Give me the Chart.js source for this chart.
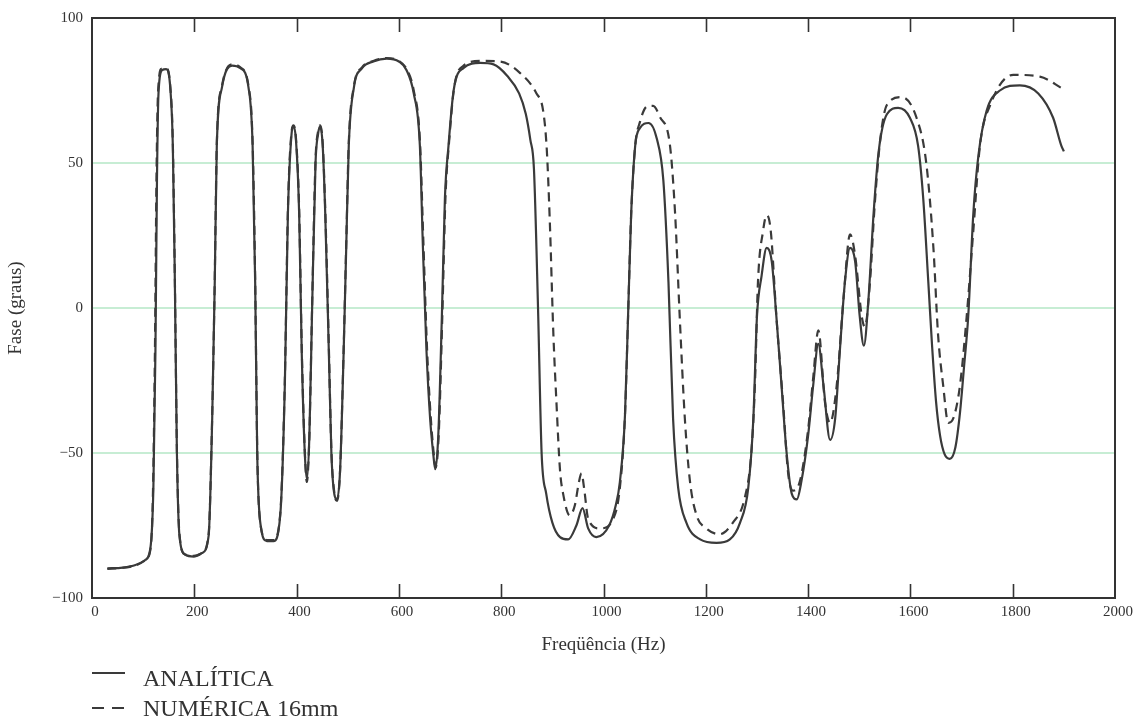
<!DOCTYPE html>
<html lang="pt">
<head>
    <meta charset="UTF-8">
    <title>Fase x Frequência</title>
    <style>
        body {
            margin: 0;
            background-color: #fff;
        }

        #wrap {
            position: relative;
            width: 1138px;
            height: 724px;
        }
    </style>
    <script src="https://cdn.jsdelivr.net/npm/chart.js"></script>
</head>
<body>
    <div id="wrap">
        <canvas id="faseChart"></canvas>
    </div>

    <script>
        // Solução analítica: frequência (Hz) e fase (graus)
        const freqAnalitica = [30, 60, 85, 104, 114, 120, 124, 127, 130, 137, 145, 153, 158, 162, 166, 171, 182, 199, 215, 228,
            235, 240, 244, 254, 274, 290, 306, 314, 319, 323, 329, 342, 355, 368, 377, 383, 390, 394, 399, 405,
            410, 416, 420, 425, 430, 437, 442, 446, 451, 456, 463, 468, 474, 479, 485, 492, 497, 502, 512, 528,
            550, 576, 600, 615, 629, 641, 647, 654, 661, 667, 671, 677, 684, 690, 697, 707, 726, 759, 785, 812,
            835, 848, 857, 864, 872, 879, 888, 900, 915, 931, 947, 959, 970, 986, 1011, 1024, 1032, 1042, 1048, 1054,
            1062, 1071, 1088, 1104, 1117, 1127, 1136, 1146, 1162, 1189, 1221, 1247, 1267, 1283, 1293, 1300, 1309, 1319, 1329, 1338,
            1348, 1358, 1368, 1378, 1387, 1400, 1410, 1420, 1430, 1443, 1453, 1462, 1472, 1482, 1492, 1501, 1509, 1518, 1528, 1538,
            1554, 1576, 1599, 1615, 1625, 1635, 1642, 1650, 1658, 1667, 1677, 1688, 1697, 1705, 1713, 1723, 1733, 1749, 1775, 1814,
            1850, 1879, 1895, 1900];
        const faseAnalitica = [-89.8, -89.5, -88.6, -86.9, -83, -62, -15, 44, 74, 82, 82.4, 76, 56, 9, -50, -78.6, -85, -85.7, -84.5, -78.6,
            -38, 9, 56, 76, 83.6, 82.7, 76, 56, 9, -50, -74, -80.4, -80.4, -71.5, -26.6, 32.5, 59.7, 62.6, 57.3, 32.5,
            -15, -50, -59, -44, -3, 50, 60, 62.6, 56, 32.5, -15, -50, -64.4, -66, -56, -15, 20.7, 56, 76, 82.7,
            85, 86, 85, 82, 74, 56, 20.7, -15, -38, -50, -55.6, -44, -3, 38, 56, 75, 82.7, 84.5, 84, 80,
            74, 67, 58, 48, 0, -50, -64, -74, -79, -79.8, -75, -69, -76, -79, -75, -68, -60, -37, -3, 32,
            56, 62, 63.8, 58.5, 44, 9, -38, -62, -74, -79.8, -81, -79.8, -74, -62, -38, -3, 11, 20.7, 16, -3,
            -26.6, -50, -64, -66, -59.7, -44, -26.6, -12.4, -26.6, -45.5, -38, -15, 9, 20.7, 16, -3, -13, 3, 32.5, 54,
            66.8, 69, 65.6, 56, 38, 9, -12, -32, -44, -50.5, -52, -48, -36, -20, -3, 32.5, 52.6, 68, 75, 76.8,
            74, 65.6, 56, 54];

        // Solução numérica com malha de 16 mm
        const freqNumerica = [30, 85, 104, 114, 119, 123, 126, 129, 136, 145, 153, 158, 162, 166, 171, 182, 199, 215, 228, 235,
            240, 244, 254, 274, 290, 306, 314, 319, 323, 329, 342, 355, 368, 377, 383, 390, 394, 399, 405, 410,
            416, 420, 425, 430, 437, 442, 446, 451, 456, 463, 468, 474, 479, 485, 492, 497, 502, 512, 528, 550,
            576, 600, 615, 629, 641, 648, 655, 662, 668, 672, 678, 685, 691, 698, 708, 726, 760, 798, 837, 869,
            882, 889, 895, 902, 908, 915, 921, 934, 944, 952, 957, 962, 970, 993, 1019, 1032, 1042, 1048, 1054, 1062,
            1071, 1085, 1097, 1110, 1130, 1140, 1149, 1159, 1169, 1182, 1201, 1227, 1253, 1276, 1289, 1296, 1302, 1312, 1319, 1327,
            1338, 1351, 1361, 1371, 1384, 1400, 1410, 1420, 1433, 1443, 1456, 1470, 1482, 1492, 1505, 1511, 1521, 1530, 1541, 1554,
            1583, 1612, 1631, 1645, 1654, 1664, 1674, 1684, 1697, 1710, 1723, 1736, 1756, 1801, 1853, 1898];
        const faseNumerica = [-90, -88.8, -87, -83.5, -65, -15, 44, 74, 82.5, 82.6, 76.5, 57, 10, -49, -78, -85, -85.5, -84.5, -78, -37,
            10, 57, 76.5, 84, 83, 76.5, 57, 10, -49, -74, -80, -80, -71, -25, 34, 60.5, 63, 58, 34, -13,
            -49, -60, -44, -2, 51, 61, 63, 57, 34, -13, -49, -64, -66.5, -56, -14, 22, 57, 76.5, 83, 85.2,
            86.2, 85.2, 82.4, 75, 58, 22, -14, -37, -50, -55, -43, -2, 38, 57, 76, 83.5, 85.2, 85, 81, 74,
            68, 55, 30, -9, -32.5, -56, -64, -71.5, -68, -60, -57, -62, -72.7, -76, -72.7, -62, -37, -3, 32, 56,
            64, 69.5, 69.7, 66, 56, 32.5, -3, -38, -59.7, -71.5, -76, -78, -74, -65.6, -50, -26.6, 9, 26.6, 32, 26.6,
            -3, -32.5, -57, -63, -59.7, -42, -24, -7.7, -32.5, -39.6, -26.6, 5, 25.4, 18, -3, -6.5, 9, 35, 58, 70,
            72.7, 65.6, 50, 20.7, -9, -26.6, -39.6, -38, -26.6, -3, 26.6, 56, 70, 80.4, 79.8, 75.6];

        // linhas de referência horizontais
        const linhasGuia = [50, 0, -50];

        const serif = '"Liberation Serif", "Times New Roman", serif';
        const inkColor = '#333';
        const gridGreen = '#90dba9';

        function toPoints(xs, ys) {
            return xs.map((x, i) => ({ x: x, y: ys[i] }));
        }

        // linhas verdes atrás das curvas
        const guidePlugin = {
            id: 'guides',
            beforeDatasetsDraw(chart) {
                const { ctx, chartArea: a, scales } = chart;
                ctx.save();
                ctx.strokeStyle = gridGreen;
                ctx.lineWidth = 1.2;
                linhasGuia.forEach(v => {
                    const py = scales.y.getPixelForValue(v);
                    ctx.beginPath();
                    ctx.moveTo(a.left, py);
                    ctx.lineTo(a.right, py);
                    ctx.stroke();
                });
                ctx.restore();
            }
        };

        // moldura com marcas internas no topo e na base, a cada 200 Hz
        const framePlugin = {
            id: 'frame',
            afterDraw(chart) {
                const { ctx, chartArea: a, scales } = chart;
                ctx.save();
                ctx.strokeStyle = inkColor;
                ctx.lineWidth = 2;
                ctx.strokeRect(a.left, a.top, a.right - a.left, a.bottom - a.top);
                ctx.lineWidth = 1.6;
                scales.x.ticks.forEach(t => {
                    if (t.value <= 0 || t.value >= 2000) return;
                    const px = Math.round(scales.x.getPixelForValue(t.value)) + 0.5;
                    ctx.beginPath();
                    ctx.moveTo(px, a.top);
                    ctx.lineTo(px, a.top + 14);
                    ctx.moveTo(px, a.bottom);
                    ctx.lineTo(px, a.bottom - 14);
                    ctx.stroke();
                });
                ctx.restore();
            }
        };

        // legenda empilhada abaixo do eixo
        const legendPlugin = {
            id: 'stackedLegend',
            afterDraw(chart) {
                const { ctx } = chart;
                const rows = [673, 708];
                const baselines = [686, 716];
                ctx.save();
                chart.data.datasets.forEach((ds, i) => {
                    ctx.strokeStyle = ds.borderColor;
                    ctx.lineWidth = 2;
                    ctx.setLineDash(i === 0 ? [] : [12, 8]);
                    ctx.beginPath();
                    ctx.moveTo(92, rows[i]);
                    ctx.lineTo(125, rows[i]);
                    ctx.stroke();
                    ctx.setLineDash([]);
                    ctx.fillStyle = inkColor;
                    ctx.font = '24px ' + serif;
                    ctx.textBaseline = 'alphabetic';
                    ctx.textAlign = 'left';
                    ctx.fillText(ds.label, 143, baselines[i]);
                });
                ctx.restore();
            }
        };

        const ctx = document.getElementById('faseChart').getContext('2d');
        new Chart(ctx, {
            type: 'line',
            data: {
                datasets: [{
                    label: 'ANALÍTICA',
                    data: toPoints(freqAnalitica, faseAnalitica),
                    borderColor: '#3a3a3a',
                    borderWidth: 2.2,
                    pointRadius: 0,
                    cubicInterpolationMode: 'monotone'
                }, {
                    label: 'NUMÉRICA 16mm',
                    data: toPoints(freqNumerica, faseNumerica),
                    borderColor: '#3a3a3a',
                    borderWidth: 2.2,
                    borderDash: [9, 6],
                    pointRadius: 0,
                    cubicInterpolationMode: 'monotone'
                }]
            },
            options: {
                responsive: true,
                maintainAspectRatio: false,
                animation: false,
                layout: {
                    padding: { top: 16, right: 23, bottom: 64, left: 0 }
                },
                scales: {
                    x: {
                        type: 'linear',
                        min: 0,
                        max: 2000,
                        afterFit(scale) { scale.height = 62; },
                        ticks: {
                            stepSize: 200,
                            color: inkColor,
                            padding: 5,
                            labelOffset: 3,
                            maxRotation: 0,
                            font: { family: serif, size: 15 },
                            callback: v => String(v)
                        },
                        grid: { display: false, drawTicks: false },
                        border: { display: false },
                        title: {
                            display: true,
                            text: 'Freqüência (Hz)',
                            color: inkColor,
                            padding: { bottom: 4 },
                            font: { family: serif, size: 19 }
                        }
                    },
                    y: {
                        min: -100,
                        max: 100,
                        afterFit(scale) { scale.width = 92; },
                        ticks: {
                            stepSize: 50,
                            color: inkColor,
                            padding: 9,
                            font: { family: serif, size: 15 },
                            callback: v => v < 0 ? '\u2212' + Math.abs(v) : String(v)
                        },
                        grid: { display: false, drawTicks: false },
                        border: { display: false },
                        title: {
                            display: true,
                            text: 'Fase (graus)',
                            color: inkColor,
                            padding: { top: 5 },
                            font: { family: serif, size: 19 }
                        }
                    }
                },
                plugins: {
                    legend: { display: false },
                    tooltip: { enabled: false }
                }
            },
            plugins: [guidePlugin, framePlugin, legendPlugin]
        });
    </script>
</body>
</html>
